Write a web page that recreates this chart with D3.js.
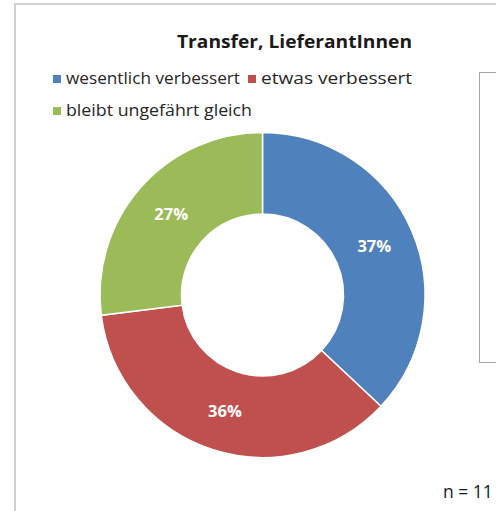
<!DOCTYPE html>
<meta charset="utf-8">
<style>
html, body { margin: 0; padding: 0; overflow: hidden; background: #fff; }
svg { display: block; }
text { font-family: "Open Sans", Lato, sans-serif; }
</style>
<svg width="496" height="511"></svg>
<script src="https://cdnjs.cloudflare.com/ajax/libs/d3/7.8.5/d3.min.js"></script>
<script>

var categories = ["wesentlich verbessert", "etwas verbessert", "bleibt ungefährt gleich"];
var values = [37, 36, 27];
var colors = ["#4f81bd", "#c0504d", "#9bbb59"];

var svg = d3.select("svg");

// frame round the chart area
svg.append("path")
  .attr("d", "M15,511V4H496")
  .attr("fill", "none")
  .attr("stroke", "#cfcfcf")
  .attr("stroke-width", 2);

// empty box at right
svg.append("rect")
  .attr("x", 479.5).attr("y", 72.5)
  .attr("width", 40).attr("height", 290)
  .attr("fill", "none")
  .attr("stroke", "#a6a6a6");

svg.append("text")
  .attr("x", 177).attr("y", 48)
  .attr("font-size", 18.5)
  .attr("font-weight", "bold")
  .attr("fill", "#1a1a1a")
  .attr("textLength", 235)
  .attr("lengthAdjust", "spacingAndGlyphs")
  .text("Transfer, LieferantInnen");

// legend
var legendPos = [[53, 84], [248, 84], [53, 116]];
var legendLen = [174, 151, 186];
var legend = svg.selectAll(".legend")
  .data(categories)
  .enter().append("g")
    .attr("class", "legend")
    .attr("transform", function(d, i) { return "translate(" + legendPos[i][0] + "," + legendPos[i][1] + ")"; });

legend.append("rect")
  .attr("x", 0).attr("y", -9)
  .attr("width", 8).attr("height", 8)
  .attr("fill", function(d, i) { return colors[i]; });

legend.append("text")
  .attr("x", 13).attr("y", 0)
  .attr("font-size", 16)
  .attr("fill", "#262626")
  .attr("textLength", function(d, i) { return legendLen[i]; })
  .attr("lengthAdjust", "spacingAndGlyphs")
  .text(function(d) { return d; });

// donut
var cx = 262.5, cy = 295, outerR = 162.5, innerR = 81;

var pie = d3.pie().sort(null).value(function(d) { return d; });
var arc = d3.arc().innerRadius(innerR).outerRadius(outerR);

var g = svg.append("g").attr("transform", "translate(" + cx + "," + cy + ")");
var arcs = pie(values);

g.selectAll("path.slice")
  .data(arcs)
  .enter().append("path")
    .attr("class", "slice")
    .attr("d", arc)
    .attr("fill", function(d, i) { return colors[i]; })
    .attr("stroke", "#fff")
    .attr("stroke-width", 1.5);

g.selectAll("text.pct")
  .data(arcs)
  .enter().append("text")
    .attr("class", "pct")
    .attr("transform", function(d) { return "translate(" + arc.centroid(d) + ")"; })
    .attr("text-anchor", "middle")
    .attr("dy", "0.35em")
    .attr("font-size", 16.5)
    .attr("font-weight", "bold")
    .attr("fill", "#fff")
    .text(function(d) { return d.data + "%"; });

svg.append("text")
  .attr("x", 443).attr("y", 498)
  .attr("font-size", 17.5)
  .attr("fill", "#1a1a1a")
  .text("n = 11");

</script>
